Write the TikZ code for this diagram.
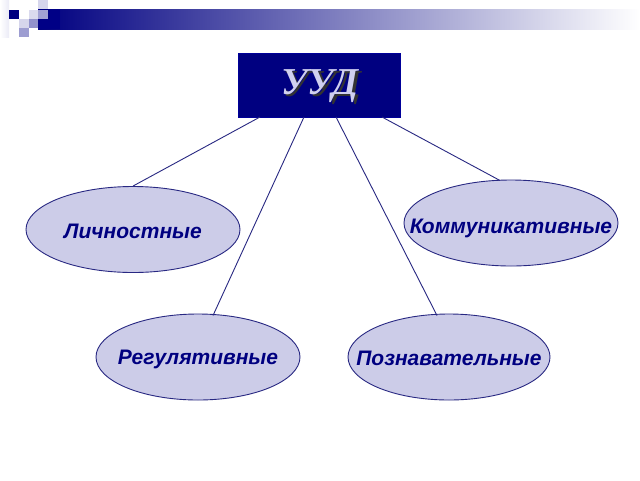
\documentclass[tikz,border=0pt]{standalone}
\usepackage{fontspec}
\setmainfont{Liberation Sans}
\newfontfamily\titlefont{Liberation Serif}
\usetikzlibrary{shapes.geometric}
\definecolor{navy}{RGB}{0,0,128}
\definecolor{lav}{RGB}{204,204,232}
\definecolor{lavtxt}{RGB}{208,208,240}
\definecolor{linecol}{RGB}{40,40,130}
\definecolor{sqlight}{RGB}{214,214,236}
\definecolor{sqmed}{RGB}{146,146,204}
\tikzset{
  kind/.style={ellipse, draw=linecol, line width=0.9pt, fill=lav,
    minimum width=214pt, minimum height=86pt, inner sep=0pt},
  kindtxt/.style={font=\fontsize{21}{24}\selectfont\bfseries\itshape, text=navy, inner sep=0pt},
  link/.style={draw=linecol, line width=0.9pt},
  sq/.style={draw=none}
}
\begin{document}
\begin{tikzpicture}[x=1pt,y=-1pt]
\useasboundingbox (0,0) rectangle (640,480);
\fill[white] (0,0) rectangle (640,480);
% decoration
\shade[left color=navy, right color=white] (38,9) rectangle (640,29);
\fill[navy!95!blue] (60,9) rectangle (38,29);
\shade[left color=white, right color=sqlight!50!white] (0,0) rectangle (9,37);
\fill[sq, fill=navy] (9,10) rectangle (18.5,19);
\fill[sq, fill=sqlight] (38,0) rectangle (48,9);
\fill[sq, fill=sqlight!90!white] (28.5,10) rectangle (38,19);
\fill[sq, fill=sqmed!85!white] (38,10) rectangle (48,19);
\fill[sq, fill=sqlight] (19,19) rectangle (28.5,28);
\fill[sq, fill=sqmed] (28.5,19) rectangle (38,28);
\fill[sq, fill=sqmed!90!white] (19,28) rectangle (28.5,37);
% title
\node[draw=navy!80!blue, fill=navy, minimum width=162pt, minimum height=64pt, inner sep=0pt] (t) at (319,85) {};
\node[inner sep=0pt, font=\titlefont\fontsize{38}{42}\selectfont\bfseries\itshape] (tt) at (320,87)
  {\makebox[0pt][l]{\hspace{2.5pt}\raisebox{-2.5pt}{\textcolor{black!80}{УУД}}}\textcolor{lavtxt}{УУД}};
% ellipses
\node[kind] (l) at (133,229.5) {};
\node[kindtxt] (lt) at (133,231.5) {Личностные};
\node[kind] (k) at (511,223) {};
\node[kindtxt] (kt) at (511,228) {Коммуникативные};
\node[kind, minimum width=204pt] (r) at (198,357) {};
\node[kindtxt] (rt) at (198,359) {Регулятивные};
\node[kind, minimum width=202pt] (p) at (449,357) {};
\node[kindtxt] (pt) at (449,358) {Познавательные};
% connectors
\coordinate (a1) at (260,117);
\coordinate (a2) at (304,117);
\coordinate (a3) at (336,117);
\coordinate (a4) at (382,117);
\path[link] (a1) -- (l.north);
\path[link] (a2) -- (213,315.5);
\path[link] (a3) -- (437,315.5);
\path[link] (a4) -- (500,180.5);
\end{tikzpicture}
\end{document}
